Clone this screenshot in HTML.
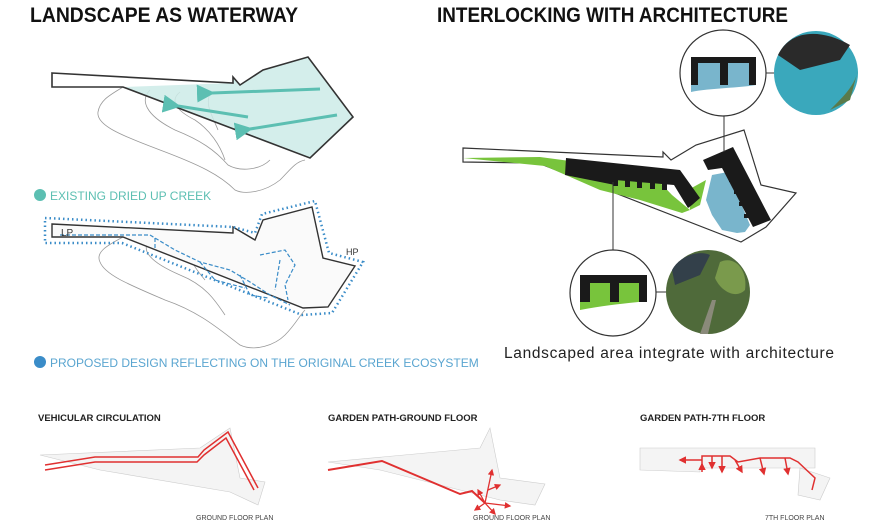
<!DOCTYPE html>
<html><head><meta charset="utf-8"><style>
body{margin:0;background:#fff;}
svg{display:block;font-family:"Liberation Sans",sans-serif;}
</style></head><body>
<svg width="882" height="526" viewBox="0 0 882 526" xmlns="http://www.w3.org/2000/svg">
<defs>
<marker id="ta" markerWidth="6" markerHeight="6" refX="1" refY="3" orient="auto"><path d="M6,0 L0,3 L6,6 z" fill="#5cbfb2"/></marker>
<marker id="ra" markerWidth="5" markerHeight="5" refX="4" refY="2.5" orient="auto"><path d="M0,0 L5,2.5 L0,5 z" fill="#e03030"/></marker>
</defs>
<!-- titles -->
<text x="30" y="22" font-size="21" font-weight="bold" fill="#111" textLength="268" lengthAdjust="spacingAndGlyphs">LANDSCAPE AS WATERWAY</text>
<text x="437" y="22" font-size="21" font-weight="bold" fill="#111" textLength="351" lengthAdjust="spacingAndGlyphs">INTERLOCKING WITH ARCHITECTURE</text>

<!-- top-left contours -->
<g fill="none" stroke="#999" stroke-width="0.8">
<path d="M123,87 C110,95 100,100 98,112 C96,125 120,135 160,150 C200,165 220,175 235,190 C245,195 265,192 280,180 C290,170 295,162 305,160"/>
<path d="M150,90 C140,100 145,115 175,130 C200,140 215,150 228,165 C240,172 260,170 270,160"/>
<path d="M180,92 C170,100 175,110 195,120 C210,130 220,145 225,160"/>
<path d="M210,94 C205,105 212,115 218,130"/>
</g>
<polygon points="123,87 233,83 233,77 240,85 263,70 308,57 353,117 310,158" fill="#cdebe7" opacity="0.85"/>
<polygon points="52,73 233,83 233,77 240,85 263,70 308,57 353,117 310,158 123,87 52,87" fill="none" stroke="#333" stroke-width="1.6"/>
<g stroke="#5cbfb2" stroke-width="3" fill="none">
<line x1="320" y1="89" x2="212" y2="93" marker-end="url(#ta)"/>
<line x1="248" y1="117" x2="178" y2="106" marker-end="url(#ta)"/>
<line x1="337" y1="115" x2="250" y2="129" marker-end="url(#ta)"/>
</g>
<circle cx="40" cy="195" r="6" fill="#5cbfb2"/>
<text x="50" y="200" font-size="12" fill="#5cbfb2">EXISTING DRIED UP CREEK</text>

<!-- bottom-left -->
<g fill="none" stroke="#999" stroke-width="0.8">
<path d="M123,237 C108,245 95,252 100,262 C105,275 130,285 165,300 C200,312 220,330 240,345 C255,352 275,345 285,335 C295,325 300,315 305,310"/>
<path d="M150,240 C140,250 150,262 180,275 C205,285 215,300 225,315"/>
<path d="M190,243 C185,255 195,268 205,280"/>
</g>
<polygon points="52,224 233,233 233,227 255,240 263,220 312,207 323,258 355,266 328,307 303,308 123,237 52,237" fill="#fafafa" stroke="#333" stroke-width="1.4"/>
<polygon points="45,218 233,227 255,233 262,214 315,201 329,253 363,262 332,313 302,315 122,243 45,243 45,221" fill="none" stroke="#3a8cc8" stroke-width="2.5" stroke-dasharray="1.5 3"/>
<g fill="none" stroke="#3a8cc8" stroke-width="1.2" stroke-dasharray="4 2">
<path d="M60,235 L150,235 L175,250 L200,262 L230,270 L250,282 L270,295 L290,305"/>
<path d="M155,238 L155,250 M200,262 L215,280 L245,288 M260,255 L285,250 L295,265 L285,285 L288,300 M280,260 L275,290 M240,275 L250,295 L268,298"/>
</g>
<text x="61" y="236" font-size="10" fill="#333">LP</text>
<text x="346" y="255" font-size="9" fill="#333">HP</text>
<circle cx="40" cy="362" r="6" fill="#3a8cc8"/>
<text x="50" y="367" font-size="12" fill="#5aa5d0">PROPOSED DESIGN REFLECTING ON THE ORIGINAL CREEK ECOSYSTEM</text>

<!-- right diagram -->
<polygon points="463,148 663,157 663,152 671,160 696,145 744,130 761,185 796,193 766,227 741,242 538,163 463,162" fill="#fff" stroke="#333" stroke-width="1.2"/>
<polygon points="463,158 540,157 600,165 650,172 672,195 690,210 682,213 640,200 600,190 545,166" fill="#78c43c"/>
<polygon points="688,190 706,180 700,205 690,210" fill="#78c43c"/>
<polygon points="566,158 680,170 700,198 692,205 688,208 674,185 615,180 615,185 565,175" fill="#1a1a1a"/>
<g fill="#1a1a1a"><rect x="613" y="178" width="5" height="8"/><rect x="625" y="179" width="5" height="8"/><rect x="637" y="180" width="5" height="8"/><rect x="650" y="181" width="5" height="8"/><rect x="662" y="182" width="5" height="8"/></g>
<polygon points="712,175 728,172 750,225 745,232 737,233 722,230 712,215 706,200" fill="#79b5cc"/>
<polygon points="703,160 733,147 771,220 753,227 722,168 708,170" fill="#1a1a1a"/>
<g fill="#1a1a1a"><rect x="729" y="178" width="6" height="4"/><rect x="734" y="190" width="6" height="4"/><rect x="739" y="202" width="6" height="4"/><rect x="744" y="214" width="6" height="4"/></g>
<!-- connector lines -->
<line x1="724" y1="115" x2="724" y2="152" stroke="#333" stroke-width="1"/>
<line x1="613" y1="250" x2="613" y2="182" stroke="#333" stroke-width="1"/>
<line x1="766" y1="73" x2="774" y2="73" stroke="#333"/>
<line x1="656" y1="292" x2="666" y2="292" stroke="#333"/>
<!-- top circle -->
<circle cx="723" cy="73" r="43" fill="#fff" stroke="#333" stroke-width="1.2"/>
<path d="M691,58 L756,58 L756,85 C740,88 710,88 691,92 Z" fill="#79b5cc"/>
<path d="M691,57 H756 V85 H749 V63 H728 V85 H720 V63 H698 V85 H691 Z" fill="#1a1a1a"/>
<circle cx="816" cy="73" r="42" fill="#3aa8bc"/>
<path d="M778,55 C790,30 820,28 850,45 L840,60 L800,70 Z" fill="#2a2a2a"/>
<path d="M830,110 C845,95 855,85 858,70 L850,100 Z" fill="#5a7a4a"/>
<!-- bottom circle -->
<circle cx="613" cy="293" r="43" fill="#fff" stroke="#333" stroke-width="1.2"/>
<path d="M580,278 L647,278 L647,301 C630,303 605,305 580,310 Z" fill="#78c43c"/>
<path d="M580,275 H647 V302 H639 V283 H619 V302 H610 V283 H590 V302 H580 Z" fill="#1a1a1a"/>
<circle cx="708" cy="292" r="42" fill="#4f6a3a"/>
<path d="M672,270 C680,255 700,250 710,255 L700,275 L675,285 Z" fill="#33404a"/>
<path d="M720,262 C735,255 748,270 745,290 C735,300 720,290 715,278 Z" fill="#7a9a4c"/>
<path d="M700,334 L712,300 L716,300 L708,334 Z" fill="#8a8a7a"/>
<text x="504" y="358" font-size="15.5" fill="#222" textLength="330" lengthAdjust="spacing">Landscaped area integrate with architecture</text>

<!-- bottom panels -->
<g font-weight="bold" font-size="9.5" fill="#222">
<text x="38" y="421">VEHICULAR CIRCULATION</text>
<text x="328" y="421">GARDEN PATH-GROUND FLOOR</text>
<text x="640" y="421">GARDEN PATH-7TH FLOOR</text>
</g>
<g font-size="7" fill="#444">
<text x="196" y="520">GROUND FLOOR PLAN</text>
<text x="473" y="520">GROUND FLOOR PLAN</text>
<text x="765" y="520">7TH FLOOR PLAN</text>
</g>
<g fill="#f4f4f4" stroke="#ccc" stroke-width="0.6">
<polygon points="40,455 200,448 230,428 240,478 265,482 258,505 230,492 100,470"/>
<polygon points="328,462 480,448 490,428 500,478 545,484 535,505 500,500 380,470"/>
<polygon points="640,448 815,448 815,468 700,468 700,472 640,470"/>
<polygon points="800,468 830,478 820,500 798,495"/>
</g>
<g fill="none" stroke="#e03030" stroke-width="1.5">
<path d="M45,465 L95,457 L198,457 L204,450 L228,432 L258,488"/>
<path d="M45,470 L95,462 L197,462 L204,455 L226,438 L254,490"/>
</g>
<g fill="none" stroke="#e03030" stroke-width="2">
<path d="M328,470 L382,461 L460,494 L472,491 L485,503"/>
</g>
<g fill="none" stroke="#e03030" stroke-width="1.3">
<path d="M485,503 L492,470" marker-end="url(#ra)"/>
<path d="M485,503 L478,490" marker-end="url(#ra)"/>
<path d="M485,503 L510,506" marker-end="url(#ra)"/>
<path d="M485,503 L495,514" marker-end="url(#ra)"/>
<path d="M485,503 L475,510" marker-end="url(#ra)"/>
<path d="M488,490 L500,485" marker-end="url(#ra)"/>
</g>
<g fill="none" stroke="#e03030" stroke-width="1.5">
<path d="M702,460 L680,460" marker-end="url(#ra)"/>
<path d="M702,470 L702,456 L730,456 L738,462 L760,458 L790,458 L798,462 L815,478 L812,490"/>
<path d="M712,456 L712,468" marker-end="url(#ra)"/>
<path d="M722,456 L722,472" marker-end="url(#ra)"/>
<path d="M735,460 L742,472" marker-end="url(#ra)"/>
<path d="M760,458 L764,474" marker-end="url(#ra)"/>
<path d="M785,458 L788,474" marker-end="url(#ra)"/>
<path d="M702,472 L702,464" marker-end="url(#ra)"/>
</g>
</svg>
</body></html>
